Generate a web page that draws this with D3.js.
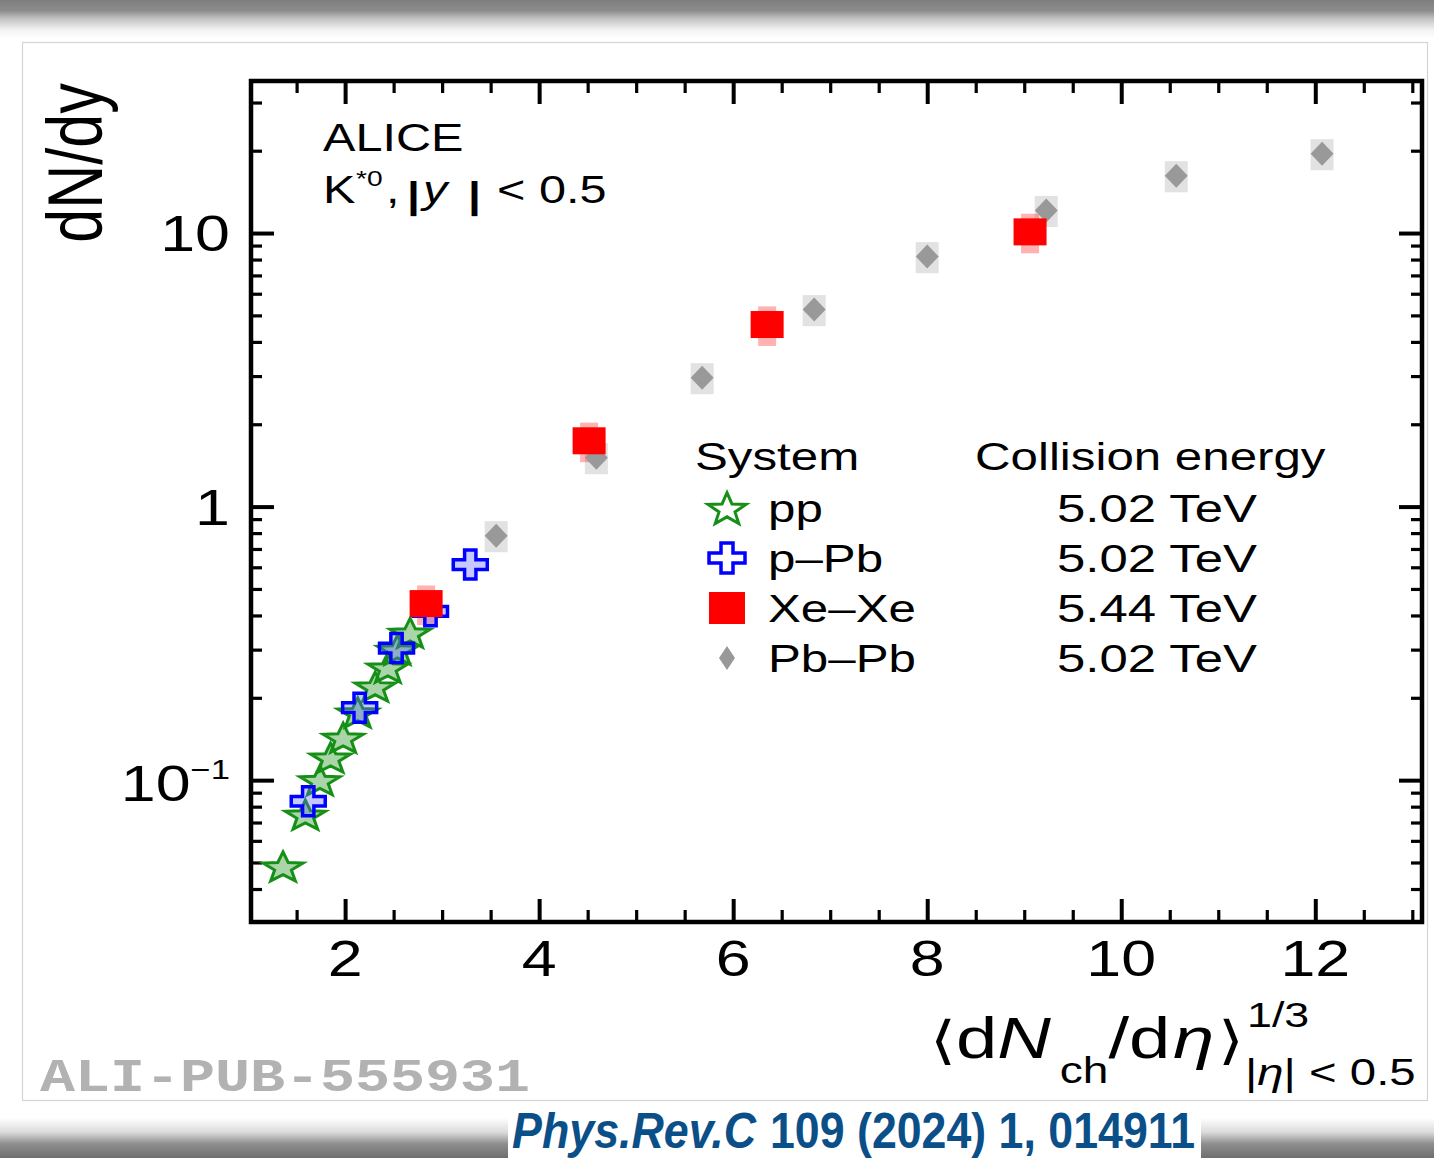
<!DOCTYPE html>
<html><head><meta charset="utf-8">
<script src="https://cdn.jsdelivr.net/npm/d3@7"></script>
<style>html,body{margin:0;padding:0;background:#fff;} svg{display:block;}</style>
</head><body>
<svg id="c" width="1434" height="1158"></svg>
<script>
// ---------------- data ----------------
const ppX  = [1.36, 1.59, 1.74, 1.85, 1.98, 2.13, 2.31, 2.44, 2.54, 2.67];
const ppY  = [0.0484, 0.0748, 0.100, 0.121, 0.143, 0.177, 0.220, 0.258, 0.300, 0.346];
const pPbX = [1.62, 2.15, 2.53, 2.88, 3.29];
const pPbY = [0.0837, 0.184, 0.304, 0.414, 0.614];
const xeX  = [2.835, 4.515, 6.35, 9.06];
const xeY  = [0.442, 1.74, 4.63, 10.1];
const xeSys = [0.165, 0.165, 0.165, 0.165];
const pbX  = [3.557, 4.59, 5.68, 6.835, 8.0, 9.227, 10.567, 12.07];
const pbY  = [0.783, 1.51, 2.96, 5.25, 8.2, 12.1, 16.2, 19.5];
const pbSys = [0.13, 0.13, 0.13, 0.13, 0.13, 0.13, 0.13, 0.13];

const xMajorTicks = [2, 4, 6, 8, 10, 12];
const xTickLabels = ["2", "4", "6", "8", "10", "12"];
const yMajorTicks = [0.1, 1, 10];
const yTickBase = ["10", "1", "10"];
const yTickSup  = ["\u22121", "", ""];
const legendSystems  = ["pp", "p\u2013Pb", "Xe\u2013Xe", "Pb\u2013Pb"];
const legendEnergies = ["5.02 TeV", "5.02 TeV", "5.44 TeV", "5.02 TeV"];

// ---------------- setup ----------------
const SX = 1.28;
const FONT = '"Liberation Sans", Arial, Helvetica, sans-serif';
const svg = d3.select('#c');

// page background / shadows
const defs = svg.append('defs');
const gTop = defs.append('linearGradient').attr('id','gt').attr('x1',0).attr('y1',0).attr('x2',0).attr('y2',1);
[[0,'#7e7e7e'],[0.28,'#8c8c8c'],[0.5,'#c4c4c4'],[0.78,'#f2f2f2'],[1,'#ffffff']].forEach(s=>gTop.append('stop').attr('offset',s[0]).attr('stop-color',s[1]));
const gBot = defs.append('linearGradient').attr('id','gb').attr('x1',0).attr('y1',0).attr('x2',0).attr('y2',1);
[[0,'#ffffff'],[0.35,'#dcdcdc'],[0.65,'#8e8e8e'],[1,'#6e6e6e']].forEach(s=>gBot.append('stop').attr('offset',s[0]).attr('stop-color',s[1]));
svg.append('rect').attr('x',0).attr('y',0).attr('width',1434).attr('height',1158).attr('fill','#fff');
svg.append('rect').attr('x',0).attr('y',0).attr('width',1434).attr('height',38).attr('fill','url(#gt)');
svg.append('rect').attr('x',0).attr('y',1118).attr('width',1434).attr('height',40).attr('fill','url(#gb)');
svg.append('rect').attr('x',22.5).attr('y',42.5).attr('width',1405).attr('height',1058)
  .attr('fill','#fff').attr('stroke','#d4d4d4').attr('stroke-width',1.2);

// scales
const x = d3.scaleLinear().domain([1.03, 13.1]).range([251, 1422]);
const y = d3.scaleLog().domain([0.0303, 35.96]).range([922, 81]);

// ---------------- ticks ----------------
const xMinor = d3.range(1.5, 13.01, 0.5).filter(v => !xMajorTicks.includes(v));
const yMinor = [];
[-2, -1, 0, 1].forEach(d => { for (let k = 2; k <= 9; k++) { const v = k * Math.pow(10, d); if (v > 0.0303 && v < 35.96) yMinor.push(v); } });

function styleAxis(g, w) {
  g.select('.domain').remove();
  g.selectAll('.tick line').attr('stroke','#000').attr('stroke-width',w);
  g.selectAll('.tick text').remove();
}
const axG = svg.append('g');
axG.append('g').attr('transform','translate(0,922)').call(d3.axisBottom(x).tickValues(xMinor).tickSize(-12).tickSizeOuter(0)).call(g=>styleAxis(g,3.2));
axG.append('g').attr('transform','translate(0,922)').call(d3.axisBottom(x).tickValues(xMajorTicks).tickSize(-23).tickSizeOuter(0)).call(g=>styleAxis(g,4));
axG.append('g').attr('transform','translate(0,81)').call(d3.axisTop(x).tickValues(xMinor).tickSize(-12).tickSizeOuter(0)).call(g=>styleAxis(g,3.2));
axG.append('g').attr('transform','translate(0,81)').call(d3.axisTop(x).tickValues(xMajorTicks).tickSize(-23).tickSizeOuter(0)).call(g=>styleAxis(g,4));
axG.append('g').attr('transform','translate(251,0)').call(d3.axisLeft(y).tickValues(yMinor).tickSize(-11).tickSizeOuter(0)).call(g=>styleAxis(g,3.2));
axG.append('g').attr('transform','translate(251,0)').call(d3.axisLeft(y).tickValues(yMajorTicks).tickSize(-23).tickSizeOuter(0)).call(g=>styleAxis(g,4));
axG.append('g').attr('transform','translate(1422,0)').call(d3.axisRight(y).tickValues(yMinor).tickSize(-11).tickSizeOuter(0)).call(g=>styleAxis(g,3.2));
axG.append('g').attr('transform','translate(1422,0)').call(d3.axisRight(y).tickValues(yMajorTicks).tickSize(-23).tickSizeOuter(0)).call(g=>styleAxis(g,4));

// frame
svg.append('rect').attr('x',x.range()[0]).attr('y',y.range()[1]).attr('width',x.range()[1]-x.range()[0]).attr('height',y.range()[0]-y.range()[1])
  .attr('fill','none').attr('stroke','#000').attr('stroke-width',4.5);

// text helper
function txt(parent, px, py, size, anchor, sx) {
  return parent.append('text').attr('transform',`translate(${px},${py}) scale(${sx===undefined?SX:sx},1)`)
    .attr('font-size',size).attr('text-anchor',anchor||'start').attr('font-family',FONT).attr('fill','#000');
}

// tick labels
xMajorTicks.forEach((v,i) => txt(svg, x(v), 976, 49, 'middle').text(xTickLabels[i]));
yMajorTicks.forEach((v,i) => {
  const t = txt(svg, 230, y(v) + (yTickSup[i] ? 21 : 18), 49, 'end');
  t.append('tspan').text(yTickBase[i]);
  if (yTickSup[i]) t.append('tspan').attr('font-size',27).attr('dy',-22).text(yTickSup[i]);
});

// axis titles
svg.append('text').attr('transform',`translate(102,163) scale(${SX},1) rotate(-90)`)
  .attr('font-size',61).attr('text-anchor','middle').attr('font-family',FONT).text('dN/dy');

const AX = 58;
const at = txt(svg, 930, 1058, AX);
at.append('tspan').attr('font-family','"DejaVu Sans", sans-serif').attr('font-size',52).text('\u27E8');
at.append('tspan').text('d');
at.append('tspan').attr('font-style','italic').text('N');
at.append('tspan').attr('font-size',36).attr('dy',25).attr('dx',7).text('ch');
at.append('tspan').attr('dy',-25).text('/d');
at.append('tspan').attr('font-style','italic').attr('dx',2).text('\u03B7');
at.append('tspan').attr('font-family','"DejaVu Sans", sans-serif').attr('font-size',52).attr('dx',3).text('\u27E9');
txt(svg, 1247, 1027, 35).text('1/3');
const t3 = txt(svg, 1245, 1085, 37);
t3.append('tspan').text('|'); t3.append('tspan').attr('font-style','italic').text('\u03B7'); t3.append('tspan').text('| < 0.5');

// ALICE annotation
txt(svg, 323, 151, 38).text('ALICE');
txt(svg, 323, 203, 38).text('K');
txt(svg, 356, 186, 22).text('*0');
txt(svg, 386, 203, 38).text(',');
txt(svg, 407, 208, 36).attr('font-weight','bold').text('|');
txt(svg, 423, 203, 38).attr('font-style','italic').text('y');
txt(svg, 468, 208, 36).attr('font-weight','bold').text('|');
txt(svg, 497, 203, 38).text('< 0.5');

// ---------------- markers ----------------
function starPath(cx, cy, rx, ry) {
  const pts = [];
  for (let i = 0; i < 10; i++) {
    const a = -Math.PI/2 + i * Math.PI/5, r = i % 2 ? 0.42 : 1;
    pts.push([cx + rx*r*Math.cos(a), cy + ry*r*Math.sin(a) + ry*0.1]);
  }
  return 'M' + pts.map(p => p.join(',')).join('L') + 'Z';
}
function crossPath(cx, cy, w, h) {
  const a = w/2, b = w/6, c = h/2, d = h/6;
  const p = [[-b,-c],[b,-c],[b,-d],[a,-d],[a,d],[b,d],[b,c],[-b,c],[-b,d],[-a,d],[-a,-d],[-b,-d]];
  return 'M' + p.map(q => (cx+q[0])+','+(cy+q[1])).join('L') + 'Z';
}
function diamondPath(cx, cy, w, h) {
  return `M${cx},${cy-h/2}L${cx+w/2},${cy}L${cx},${cy+h/2}L${cx-w/2},${cy}Z`;
}

const plot = svg.append('g');
// systematic boxes
plot.selectAll('.pbbox').data(pbX).enter().append('rect')
  .attr('x', (d,i) => x(d) - 11.5).attr('width', 23)
  .attr('y', (d,i) => y(pbY[i]*(1+pbSys[i]))).attr('height', (d,i) => y(pbY[i]*(1-pbSys[i])) - y(pbY[i]*(1+pbSys[i])))
  .attr('fill','rgba(150,150,150,0.28)');
plot.selectAll('.xebox').data(xeX).enter().append('rect')
  .attr('x', (d,i) => x(d) - 9).attr('width', 18)
  .attr('y', (d,i) => y(xeY[i]*(1+xeSys[i]))).attr('height', (d,i) => y(xeY[i]*(1-xeSys[i])) - y(xeY[i]*(1+xeSys[i])))
  .attr('fill','rgba(255,0,0,0.3)');

const GREEN = '#168f16', BLUE = '#0000ff';
plot.selectAll('.pp').data(ppX).enter().append('path')
  .attr('d', (d,i) => starPath(x(d), y(ppY[i]), 21, 16))
  .attr('fill','rgba(40,150,40,0.4)').attr('stroke',GREEN).attr('stroke-width',3).attr('stroke-linejoin','miter');
plot.selectAll('.ppb').data(pPbX).enter().append('path')
  .attr('d', (d,i) => crossPath(x(d), y(pPbY[i]), 34, 29))
  .attr('fill','rgba(90,100,255,0.35)').attr('stroke',BLUE).attr('stroke-width',3.5);
plot.selectAll('.pb').data(pbX).enter().append('path')
  .attr('d', (d,i) => diamondPath(x(d), y(pbY[i]), 23, 24))
  .attr('fill','#999');
plot.selectAll('.xe').data(xeX).enter().append('rect')
  .attr('x', d => x(d) - 16.5).attr('width', 33)
  .attr('y', (d,i) => y(xeY[i]) - 13.5).attr('height', 27)
  .attr('fill','#ff0000');

// ---------------- legend ----------------
const lg = svg.append('g');
txt(lg, 695, 470, 38.5).text('System');
txt(lg, 975, 470, 38.5).text('Collision energy');
const rowY = [508, 558, 608, 658];
legendSystems.forEach((s,i) => {
  txt(lg, 768, rowY[i] + 14, 38.5).text(s);
  txt(lg, 1057, rowY[i] + 14, 38.5, 'start').attr('textLength', 200/SX).attr('lengthAdjust','spacingAndGlyphs').text(legendEnergies[i]);
});
const LX = 727;
lg.append('path').attr('d', starPath(LX, rowY[0], 20, 17)).attr('fill','#fff').attr('stroke',GREEN).attr('stroke-width',3);
lg.append('path').attr('d', crossPath(LX, rowY[1], 36, 30)).attr('fill','#fff').attr('stroke',BLUE).attr('stroke-width',3.5);
lg.append('rect').attr('x', LX-18).attr('y', rowY[2]-16).attr('width',36).attr('height',32).attr('fill','#ff0000');
lg.append('path').attr('d', diamondPath(LX, rowY[3], 16, 24)).attr('fill','#999');

// ---------------- footer ----------------
svg.append('text').attr('x',40).attr('y',1091).attr('font-family','"Liberation Mono", "Courier New", monospace')
  .attr('font-weight','bold').attr('font-size',47).attr('fill','#b2b2b2')
  .attr('textLength',490).attr('lengthAdjust','spacingAndGlyphs').text('ALI-PUB-555931');

svg.append('rect').attr('x',508).attr('y',1106).attr('width',693).attr('height',52).attr('fill','#fff');
const CITEF = '"Liberation Sans Narrow", "Liberation Sans", Arial, sans-serif';
svg.append('text').attr('x',512).attr('y',1148).attr('font-family',CITEF)
  .attr('font-weight','bold').attr('font-style','italic').attr('font-size',50).attr('fill','#0b4f88')
  .attr('textLength',244).attr('lengthAdjust','spacingAndGlyphs').text('Phys.Rev.C');
svg.append('text').attr('x',770).attr('y',1148).attr('font-family',CITEF)
  .attr('font-weight','bold').attr('font-size',50).attr('fill','#0b4f88')
  .attr('textLength',425).attr('lengthAdjust','spacingAndGlyphs').text('109 (2024) 1, 014911');
</script>
</body></html>
